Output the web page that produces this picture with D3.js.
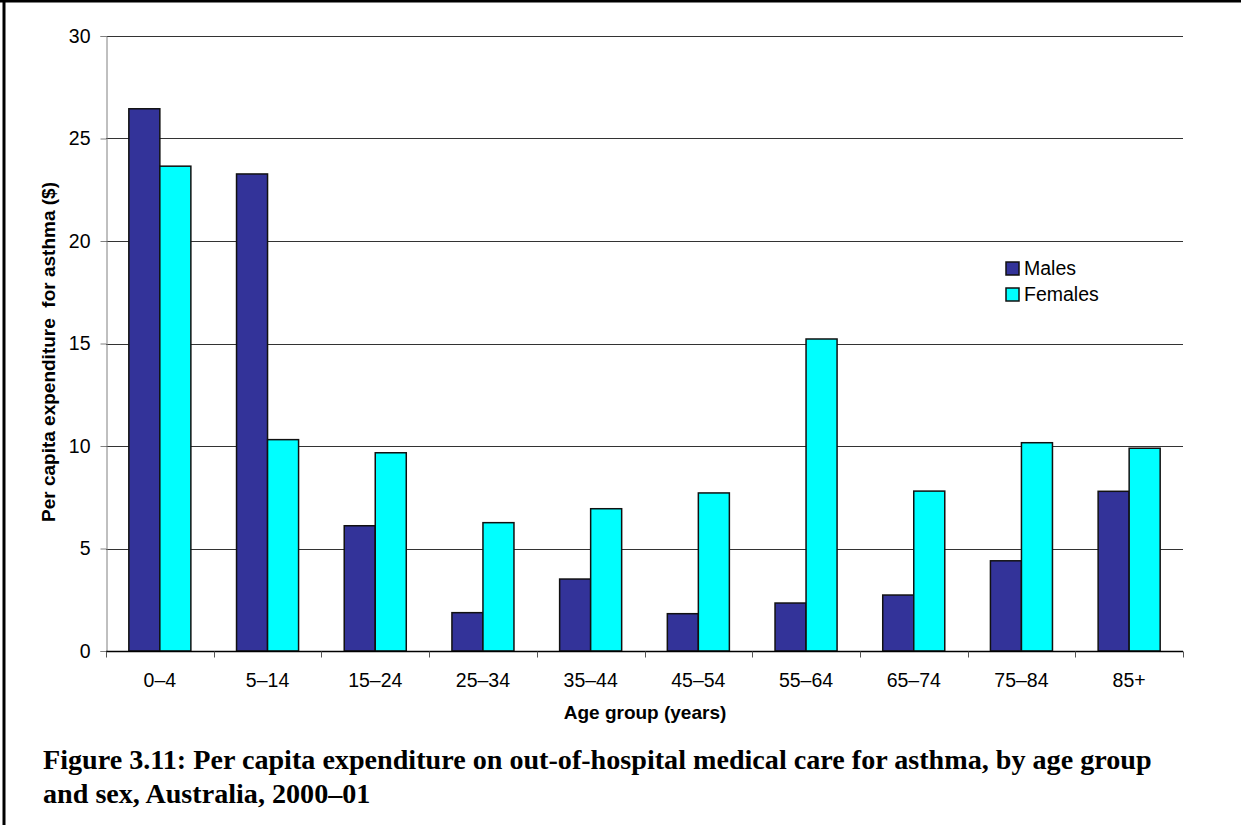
<!DOCTYPE html>
<html>
<head>
<meta charset="utf-8">
<script src="https://cdn.jsdelivr.net/npm/d3@7"></script>
<style>
	body { margin: 0; background: #fff; }
	svg { display: block; }
</style>
</head>
<body>
<svg id="chart"></svg>
<script>
// ========== DATA ==========
var ageGroups = ['0–4', '5–14', '15–24', '25–34', '35–44', '45–54', '55–64', '65–74', '75–84', '85+'];
var males = [26.45, 23.27, 6.11, 1.87, 3.51, 1.82, 2.34, 2.73, 4.40, 7.79];
var females = [23.65, 10.31, 9.67, 6.26, 6.94, 7.71, 15.22, 7.80, 10.16, 9.89];
var seriesNames = ['Males', 'Females'];
var yTicks = [0, 5, 10, 15, 20, 25, 30];

// ========== CONSTANTS ==========
var W = 1241, H = 825;
var plotLeft = 106, plotRight = 1183, plotTop = 36, plotBottom = 651;
var colors = ['#333399', '#00ffff'];
var sans = 'Arial, "Liberation Sans", Helvetica, sans-serif';
var labelSize = '19.5px';
var titleSize = '19px';

var svg = d3.select('svg#chart')
	.attr('width', W)
	.attr('height', H);

// frame (top and left edges only)
svg.append('line')
	.attr('x1', 0).attr('x2', W).attr('y1', 1).attr('y2', 1)
	.attr('stroke', '#000').attr('stroke-width', 3);
svg.append('line')
	.attr('x1', 4).attr('x2', 4).attr('y1', 0).attr('y2', H)
	.attr('stroke', '#000').attr('stroke-width', 3);

// scales
var x0 = d3.scaleBand()
	.domain(ageGroups)
	.range([plotLeft, plotRight])
	.paddingInner(0.424)
	.paddingOuter(0.212);
var x1 = d3.scaleBand()
	.domain(seriesNames)
	.range([0, x0.bandwidth()]);
var y = d3.scaleLinear()
	.domain([0, 30])
	.range([plotBottom, plotTop]);

// gridlines
svg.append('g')
	.selectAll('line')
	.data(yTicks.filter(function(d) { return d > 0; }))
	.enter().append('line')
		.attr('x1', plotLeft)
		.attr('x2', plotRight)
		.attr('y1', function(d) { return Math.round(y(d)) + 0.5; })
		.attr('y2', function(d) { return Math.round(y(d)) + 0.5; })
		.attr('stroke', '#333')
		.attr('stroke-width', 1);

// y axis
var yAxis = svg.append('g')
	.attr('transform', 'translate(' + (plotLeft + 0.5) + ',0)')
	.call(d3.axisLeft(y).tickValues(yTicks).tickSize(6).tickPadding(10));
yAxis.select('.domain').attr('stroke', '#808080');
yAxis.selectAll('.tick line').attr('stroke', '#808080');
yAxis.selectAll('.tick text')
	.attr('fill', '#000')
	.style('font-family', sans)
	.style('font-size', labelSize);

// bars
var rows = ageGroups.map(function(g, i) {
	return { group: g, values: [
		{ key: 'Males', value: males[i] },
		{ key: 'Females', value: females[i] }
	] };
});

var groups = svg.append('g')
	.selectAll('g')
	.data(rows)
	.enter().append('g')
		.attr('transform', function(d) { return 'translate(' + x0(d.group) + ',0)'; });

groups.selectAll('rect')
	.data(function(d) { return d.values; })
	.enter().append('rect')
		.attr('x', function(d) { return x1(d.key); })
		.attr('y', function(d) { return y(d.value); })
		.attr('width', x1.bandwidth())
		.attr('height', function(d) { return plotBottom - y(d.value); })
		.attr('fill', function(d, i) { return colors[i]; })
		.attr('stroke', '#111')
		.attr('stroke-width', 1.5);

// x axis (ticks on category boundaries)
var xAxisG = svg.append('g')
	.attr('transform', 'translate(0,' + (plotBottom + 0.5) + ')');
xAxisG.append('line')
	.attr('x1', plotLeft).attr('x2', plotRight)
	.attr('stroke', '#000').attr('stroke-width', 1.5);
var bounds = d3.range(ageGroups.length + 1).map(function(i) { return plotLeft + i * x0.step(); });
xAxisG.selectAll('.xtick')
	.data(bounds)
	.enter().append('line')
		.attr('class', 'xtick')
		.attr('x1', function(d) { return Math.round(d) + 0.5; })
		.attr('x2', function(d) { return Math.round(d) + 0.5; })
		.attr('y1', 0).attr('y2', 6)
		.attr('stroke', '#555');
xAxisG.selectAll('.xlabel')
	.data(ageGroups)
	.enter().append('text')
		.attr('class', 'xlabel')
		.attr('x', function(d) { return x0(d) + x0.bandwidth() / 2; })
		.attr('y', 35)
		.attr('text-anchor', 'middle')
		.style('font-family', sans)
		.style('font-size', labelSize)
		.text(function(d) { return d; });

// axis titles
svg.append('text')
	.attr('x', 645)
	.attr('y', 719)
	.attr('text-anchor', 'middle')
	.style('font-family', sans)
	.style('font-size', titleSize)
	.style('font-weight', 'bold')
	.text('Age group (years)');

svg.append('text')
	.attr('transform', 'translate(55,' + 352 + ')rotate(-90)')
	.attr('text-anchor', 'middle')
	.style('font-family', sans)
	.style('font-size', titleSize)
	.style('font-weight', 'bold')
	.style('white-space', 'pre')
	.text('Per capita expenditure  for asthma ($)');

// legend
var legend = svg.append('g')
	.attr('transform', 'translate(1006,262)');
var items = legend.selectAll('g')
	.data(seriesNames)
	.enter().append('g')
		.attr('transform', function(d, i) { return 'translate(0,' + i * 26 + ')'; });
items.append('rect')
	.attr('width', 13).attr('height', 13)
	.attr('fill', function(d, i) { return colors[i]; })
	.attr('stroke', '#111').attr('stroke-width', 1.5);
items.append('text')
	.attr('x', 18)
	.attr('y', 13)
	.style('font-family', sans)
	.style('font-size', labelSize)
	.text(function(d) { return d; });

// caption
var capLines = [
	'Figure 3.11: Per capita expenditure on out-of-hospital medical care for asthma, by age group',
	'and sex, Australia, 2000–01'
];
var capText = svg.append('g').selectAll('text')
	.data(capLines)
	.enter().append('text')
		.attr('x', 43)
		.attr('y', function(d, i) { return 769 + i * 34; })
		.style('font-family', '"Palatino Linotype", "Book Antiqua", Palatino, "Liberation Serif", serif')
		.style('font-weight', 'bold')
		.style('font-size', '23px')
		.text(function(d) { return d; });
// fit first line to the reference width
var w0 = capText.node().getComputedTextLength();
capText.style('font-size', (23 * 1109 / w0) + 'px');
</script>
</body>
</html>
